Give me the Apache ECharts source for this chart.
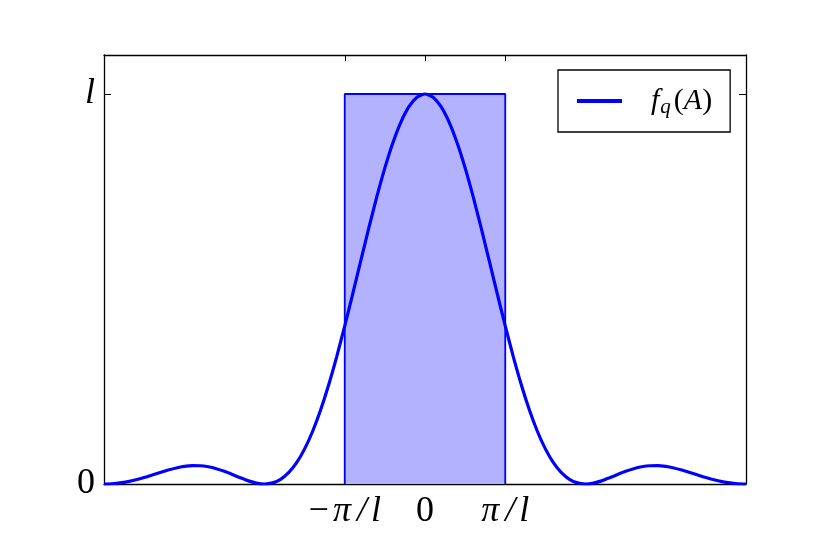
<!DOCTYPE html>
<html>
<head>
<meta charset="utf-8">
<script src="https://cdn.jsdelivr.net/npm/echarts@6/dist/echarts.min.js"></script>
<style>html,body{margin:0;padding:0;background:#fff;}#c{width:830px;height:554px;}</style>
</head>
<body>
<div id="c"></div>
<script>
// x in units of pi/l, y in units of l
const xValues = [-4.0,-3.9,-3.8,-3.7,-3.6,-3.5,-3.4,-3.3,-3.2,-3.1,-3.0,-2.9,-2.8,-2.7,-2.6,-2.5,-2.4,-2.3,-2.2,-2.1,-2.0,-1.9,-1.8,-1.7,-1.6,-1.5,-1.4,-1.3,-1.2,-1.1,-1.0,-0.9,-0.8,-0.7,-0.6,-0.5,-0.4,-0.3,-0.2,-0.1,0.0,0.1,0.2,0.3,0.4,0.5,0.6,0.7,0.8,0.9,1.0,1.1,1.2,1.3,1.4,1.5,1.6,1.7,1.8,1.9,2.0,2.1,2.2,2.3,2.4,2.5,2.6,2.7,2.8,2.9,3.0,3.1,3.2,3.3,3.4,3.5,3.6,3.7,3.8,3.9,4.0];
const fqValues = [0.0000,0.0007,0.0027,0.0061,0.0108,0.0165,0.0230,0.0296,0.0358,0.0411,0.0450,0.0470,0.0468,0.0441,0.0392,0.0324,0.0243,0.0158,0.0080,0.0023,0.0000,0.0028,0.0119,0.0289,0.0547,0.0901,0.1353,0.1904,0.2546,0.3268,0.4053,0.4881,0.5728,0.6566,0.7368,0.8106,0.8751,0.9281,0.9675,0.9918,1.0000,0.9918,0.9675,0.9281,0.8751,0.8106,0.7368,0.6566,0.5728,0.4881,0.4053,0.3268,0.2546,0.1904,0.1353,0.0901,0.0547,0.0289,0.0119,0.0028,0.0000,0.0023,0.0080,0.0158,0.0243,0.0324,0.0392,0.0441,0.0468,0.0470,0.0450,0.0411,0.0358,0.0296,0.0230,0.0165,0.0108,0.0061,0.0027,0.0007,0.0000];
const rectX = [-1, -1, 1, 1];
const rectY = [0, 1, 1, 0];
const xTickValues = [-1, 0, 1];
const xTickLabels = ['{m|\u2212}{p|\u03c0}{s|/}{i|l}', '{n|0}', '{p|\u03c0}{s|/}{i|l}'];
const yTickValues = [0, 1];
const yTickLabels = ['{n|0}', '{i|l}'];
const seriesName = 'f_q(A)';

const curveData = xValues.map((x, i) => [x, fqValues[i]]);
const rectData = rectX.map((x, i) => [x, rectY[i]]);

const serif = '"Liberation Serif","DejaVu Serif",serif';
const FS = 36;
const rich = {
  n: {fontFamily: serif, fontSize: FS, color: '#000'},
  m: {fontFamily: serif, fontSize: FS, color: '#000', padding: [0, 4, 0, 0]},
  p: {fontFamily: serif, fontSize: FS, fontStyle: 'italic', color: '#000', padding: [0, 6, 0, 0]},
  s: {fontFamily: serif, fontSize: FS, fontStyle: 'italic', color: '#000', padding: [0, 4, 0, 0]},
  i: {fontFamily: serif, fontSize: FS, fontStyle: 'italic', color: '#000'}
};

const chart = echarts.init(document.getElementById('c'), null, {renderer: 'canvas'});
chart.setOption({
  backgroundColor: '#fff',
  animation: false,
  grid: {left: 104, right: 84, top: 55, bottom: 70, containLabel: false},
  legend: {
    left: 558, top: 70,
    padding: [14, 18, 14, 19],
    borderColor: '#000', borderWidth: 1.3, borderRadius: 0,
    backgroundColor: '#fff',
    itemWidth: 45, itemHeight: 4,
    data: [{name: seriesName, icon: 'rect'}],
    formatter: () => '{i|f}{s|q}{n|(}{i|A}{n|)}',
    textStyle: {
      padding: [0, 0, 0, 24],
      rich: {
        i: {fontFamily: serif, fontSize: 30, fontStyle: 'italic', color: '#000', lineHeight: 30},
        n: {fontFamily: serif, fontSize: 30, color: '#000', lineHeight: 30},
        s: {fontFamily: serif, fontSize: 21, fontStyle: 'italic', color: '#000', lineHeight: 30, padding: [13, 3, 0, 1]}
      }
    }
  },
  xAxis: [{
    type: 'value', min: -4, max: 4, interval: 1,
    axisLine: {show: true, onZero: false, lineStyle: {color: '#000', width: 1.3}},
    axisTick: {show: true, inside: true, length: 6, customValues: xTickValues, lineStyle: {color: '#000'}},
    axisLabel: {
      margin: 10, customValues: xTickValues,
      formatter: v => xTickLabels[xTickValues.indexOf(v)] || '',
      rich: rich
    },
    splitLine: {show: false}
  }, {
    type: 'value', min: -4, max: 4, interval: 1, position: 'top',
    axisLine: {show: true, onZero: false, lineStyle: {color: '#000', width: 1.3}},
    axisTick: {show: true, inside: true, length: 6, customValues: xTickValues, lineStyle: {color: '#000'}},
    axisLabel: {show: false},
    splitLine: {show: false}
  }],
  yAxis: [{
    type: 'value', min: 0, max: 1.1,
    axisLine: {show: true, onZero: false, lineStyle: {color: '#000', width: 1.3}},
    axisTick: {show: true, inside: true, length: 7, customValues: yTickValues, lineStyle: {color: '#000'}},
    axisLabel: {
      margin: 9, customValues: yTickValues,
      formatter: v => yTickLabels[yTickValues.indexOf(v)] || '',
      rich: rich
    },
    splitLine: {show: false}
  }, {
    type: 'value', min: 0, max: 1.1, position: 'right',
    axisLine: {show: true, onZero: false, lineStyle: {color: '#000', width: 1.3}},
    axisTick: {show: true, inside: true, length: 7, customValues: yTickValues, lineStyle: {color: '#000'}},
    axisLabel: {show: false},
    splitLine: {show: false}
  }],
  series: [{
    name: 'rect', type: 'line', data: rectData, symbol: 'none', z: 1,
    lineStyle: {color: '#0000ff', width: 1.8},
    areaStyle: {color: '#b2b2ff', opacity: 1, origin: 'start'},
    silent: true
  }, {
    name: seriesName, type: 'line', data: curveData, symbol: 'none', smooth: 0.2, z: 3,
    itemStyle: {color: '#0000ff'},
    lineStyle: {color: '#0000ff', width: 3.2}
  }]
});
</script>
</body>
</html>
